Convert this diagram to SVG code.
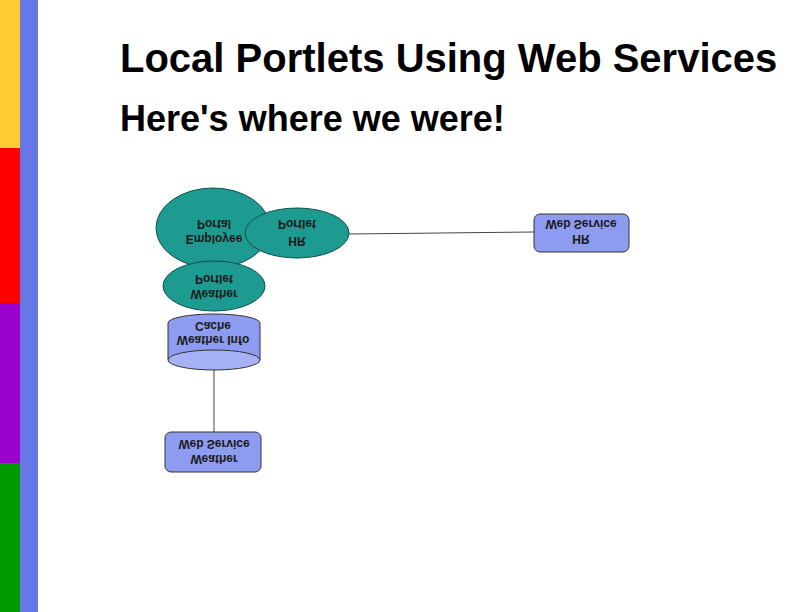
<svg xmlns="http://www.w3.org/2000/svg" width="792" height="612" viewBox="0 0 792 612">
<style>
.title{font-family:"Liberation Sans",Arial,sans-serif;font-weight:bold;fill:#000}
.lbl{font-family:"Liberation Sans",Arial,sans-serif;font-weight:bold;font-size:12px;fill:#1a1a1a;text-anchor:middle}
.teal{fill:#1e9b90;stroke:#0d514c;stroke-width:1}
.blue{fill:#8d9cf0;stroke:#333;stroke-width:1}
.conn{stroke:#444;stroke-width:1;fill:none}
</style>
<rect x="0" y="0" width="792" height="612" fill="#fff"/>
<g id="sidebar">
<rect x="0" y="0" width="20" height="148" fill="#ffcc33"/>
<rect x="0" y="148" width="20" height="155" fill="#ff0000"/>
<rect x="0" y="303" width="20" height="160" fill="#9900cc"/>
<rect x="0" y="463" width="20" height="149" fill="#009900"/>
<rect x="20" y="0" width="18" height="612" fill="#6677e6"/>
</g>
<text class="title" x="120" y="72" font-size="40">Local Portlets Using Web Services</text>
<text class="title" x="120" y="131" font-size="36">Here's where we were!</text>
<g id="connectors">
<line class="conn" x1="349" y1="234" x2="534" y2="232"/>
<line class="conn" x1="214" y1="370" x2="214" y2="432"/>
</g>
<g id="employee-portal">
<ellipse class="teal" cx="213" cy="228" rx="57" ry="40"/>
<text class="lbl" transform="translate(214,220) scale(1,-1)">Portal</text>
<text class="lbl" transform="translate(214,235) scale(1,-1)">Employee</text>
</g>
<g id="hr-portlet">
<ellipse class="teal" cx="297" cy="233" rx="52" ry="25"/>
<text class="lbl" transform="translate(297,220) scale(1,-1)">Portlet</text>
<text class="lbl" transform="translate(297,237) scale(1,-1)">HR</text>
</g>
<g id="weather-portlet">
<ellipse class="teal" cx="214" cy="286" rx="51" ry="25"/>
<text class="lbl" transform="translate(214,275) scale(1,-1)">Portlet</text>
<text class="lbl" transform="translate(214,290) scale(1,-1)">Weather</text>
</g>
<g id="weather-cache">
<path class="blue" d="M168,323 A46,9 0 0 1 260,323 L260,360 L168,360 Z"/>
<ellipse cx="214" cy="360" rx="46" ry="10" fill="#a6b2f5" stroke="#333" stroke-width="1"/>
<text class="lbl" transform="translate(213,322) scale(1,-1)">Cache</text>
<text class="lbl" transform="translate(213,336) scale(1,-1)">Weather Info</text>
</g>
<g id="weather-web-service">
<rect class="blue" x="165" y="432" width="96" height="40" rx="6"/>
<text class="lbl" transform="translate(214,440) scale(1,-1)">Web Service</text>
<text class="lbl" transform="translate(214,455) scale(1,-1)">Weather</text>
</g>
<g id="hr-web-service">
<rect class="blue" x="534" y="214" width="95" height="38" rx="6"/>
<text class="lbl" transform="translate(581,220) scale(1,-1)">Web Service</text>
<text class="lbl" transform="translate(581,235) scale(1,-1)">HR</text>
</g>
</svg>
